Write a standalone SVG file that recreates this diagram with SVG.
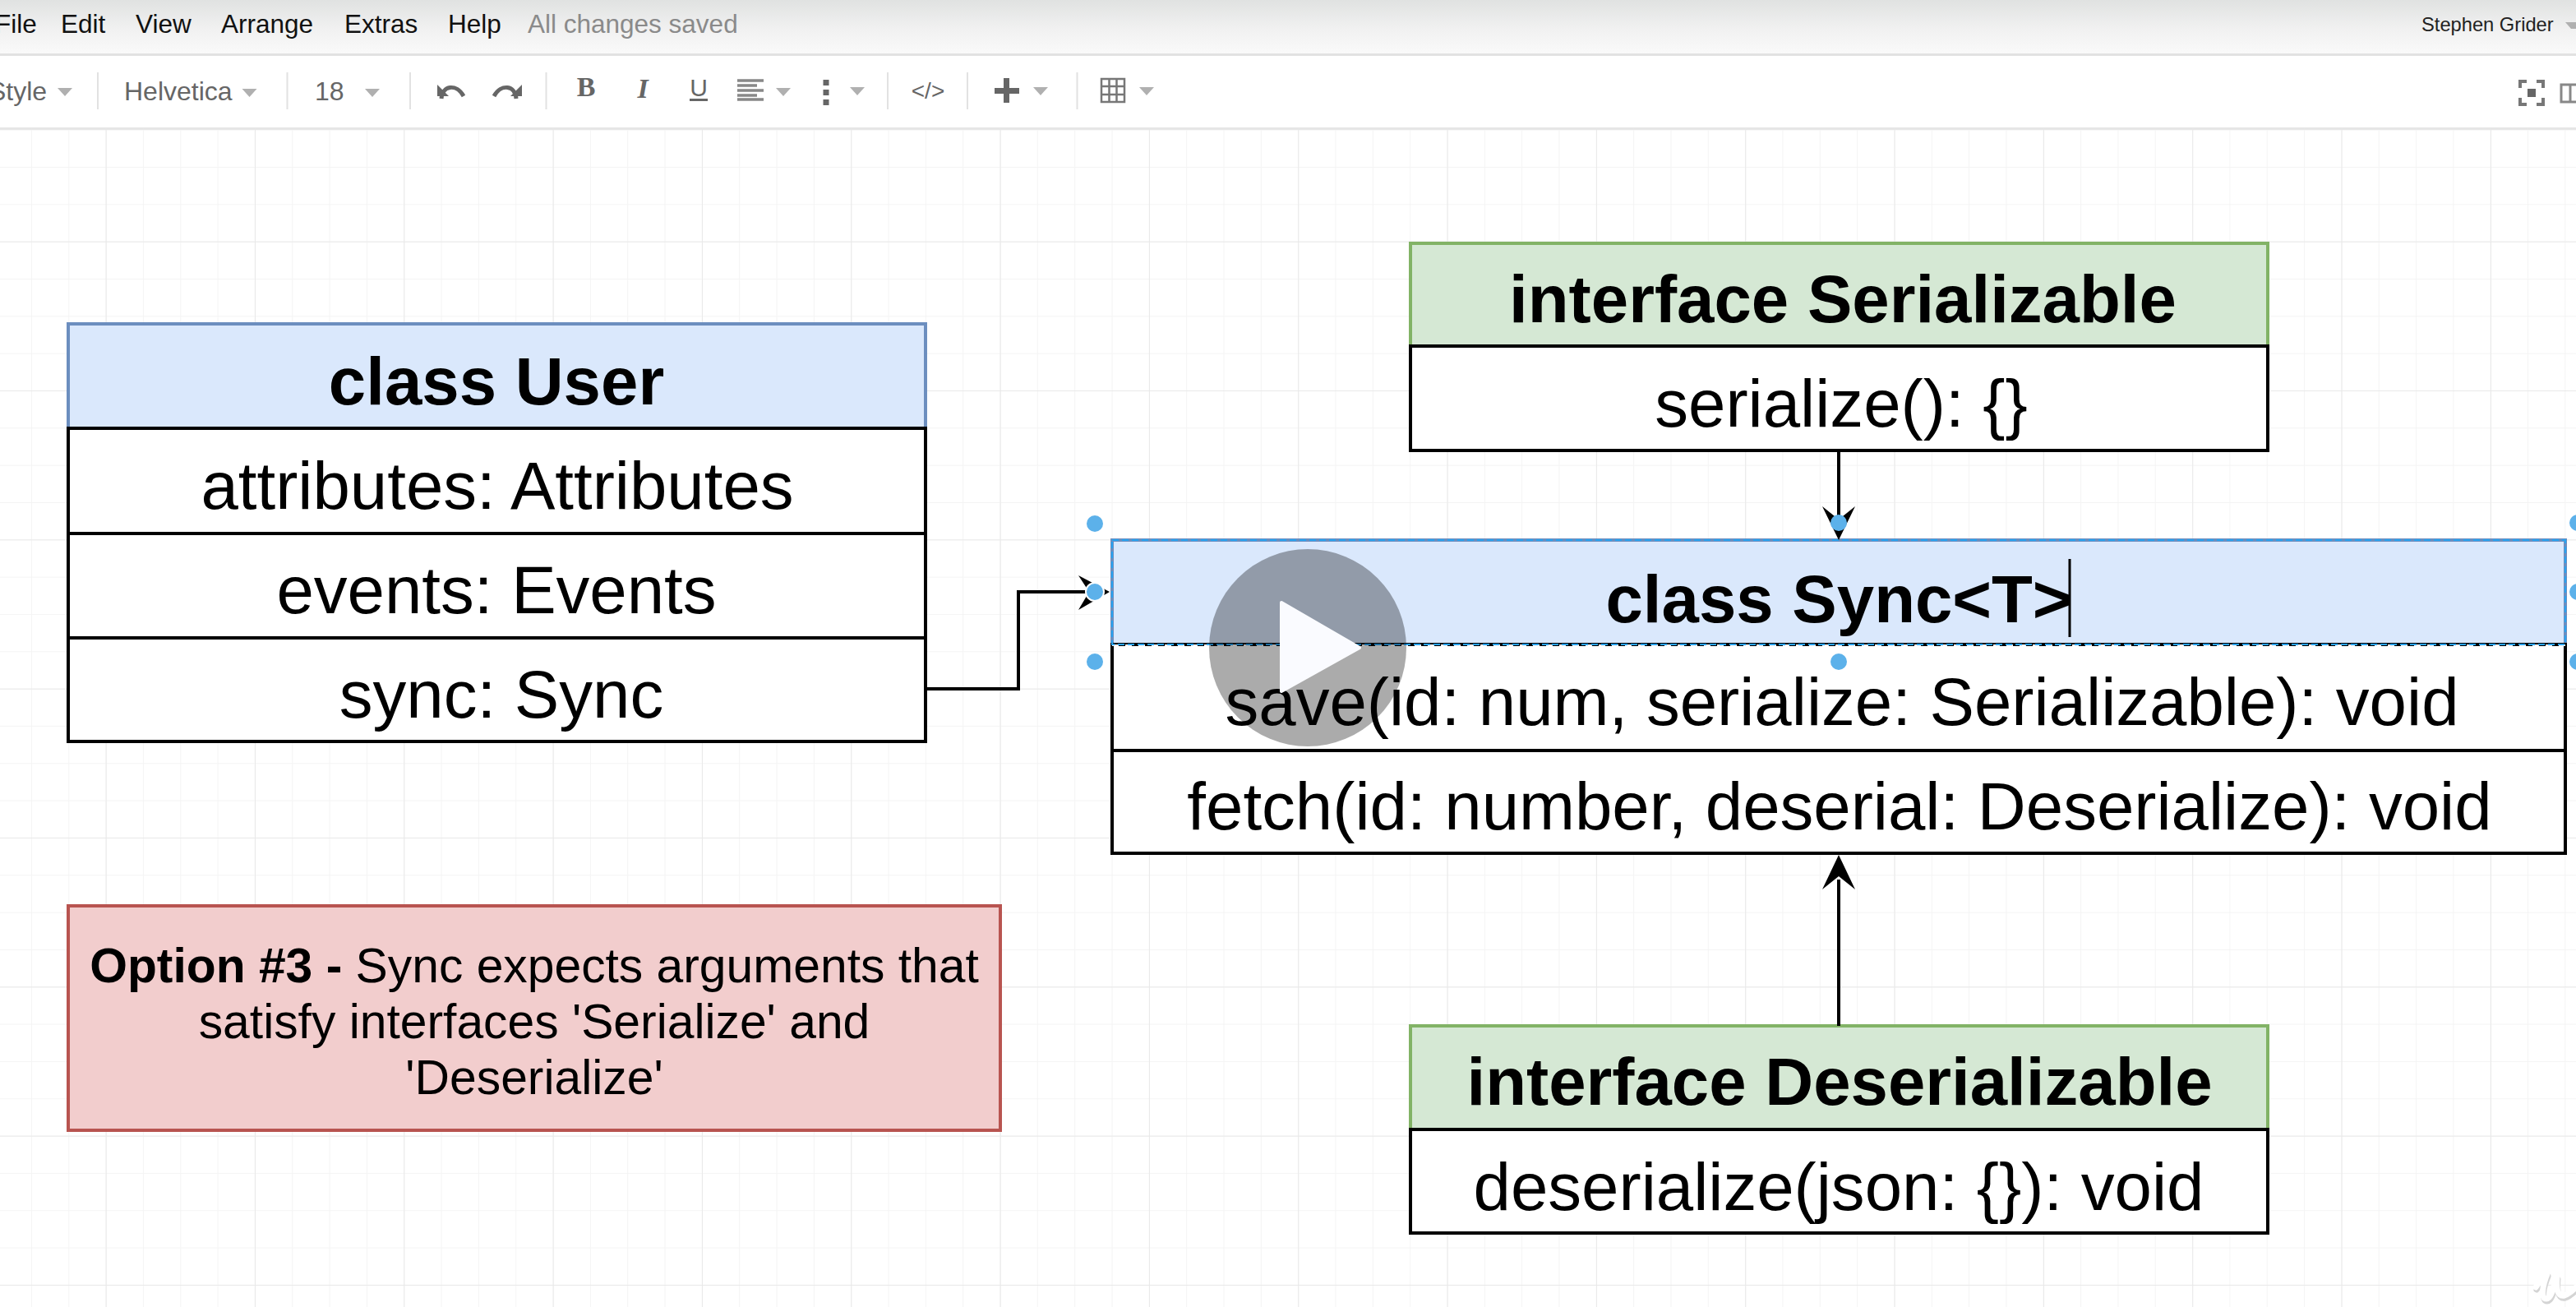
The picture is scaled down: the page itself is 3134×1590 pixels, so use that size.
<svg xmlns="http://www.w3.org/2000/svg" width="3134" height="1590" viewBox="0 0 3134 1590">
<defs>
<linearGradient id="bar" x1="0" y1="0" x2="0" y2="1"><stop offset="0" stop-color="#e0e2e1"/><stop offset="0.5" stop-color="#f0f0f0"/><stop offset="1" stop-color="#fafafa"/></linearGradient>
<pattern id="minor" x="-6.400" y="-22.670" width="45.33" height="45.33" patternUnits="userSpaceOnUse"><path d="M45.33 0V45.33M0 45.33H45.33" fill="none" stroke="#f4f4f4" stroke-width="2"/></pattern>
<pattern id="major" x="-51.700" y="-68" width="181.33" height="181.33" patternUnits="userSpaceOnUse"><path d="M181.33 0V181.33M0 181.33H181.33" fill="none" stroke="#e9e9e9" stroke-width="2"/></pattern>
</defs>
<style>
text{font-family:"Liberation Sans",Arial,sans-serif}
.t{font-size:81.600px;text-anchor:middle;fill:#000}
.b{font-weight:700}
.box{stroke:#000;stroke-width:4;fill:#fff}
.blue{fill:#dae8fc;stroke:#6c8ebf;stroke-width:4}
.green{fill:#d5e8d4;stroke:#82b366;stroke-width:4}
.menu{font-size:31.500px;fill:#111}
.tool{font-size:32px;fill:#666}
.sep{stroke:#e2e2e2;stroke-width:2}
.dd{fill:#b0b0b0}
.ico{fill:#666}
.dot{fill:#5cb1ea}
.conn{fill:none;stroke:#000;stroke-width:4}
.opt{font-size:58.800px;text-anchor:middle;fill:#000}
</style>
<rect width="3134" height="1590" fill="#fff"/>
<rect y="158" width="3134" height="1432" fill="url(#minor)"/>
<rect y="158" width="3134" height="1432" fill="url(#major)"/>
<g id="menubar">
<rect width="3134" height="66" fill="url(#bar)"/>
<rect y="65" width="3134" height="3" fill="#e2e2e2"/>
<text class="menu" x="-6" y="40">File</text>
<text class="menu" x="74" y="40">Edit</text>
<text class="menu" x="165" y="40">View</text>
<text class="menu" x="269" y="40">Arrange</text>
<text class="menu" x="419" y="40">Extras</text>
<text class="menu" x="545" y="40">Help</text>
<text x="642" y="40" style="font-size:31.500px;fill:#8a8a8a">All changes saved</text>
<text x="2946" y="38" style="font-size:23.700px;fill:#222">Stephen Grider</text>
<path class="dd" d="M3121 27H3134V35H3128Z"/>
</g>
<g id="toolbar">
<rect y="68" width="3134" height="88" fill="#fff"/>
<rect y="155" width="3134" height="3" fill="#e6e6e6"/>
<text class="tool" x="-14" y="122">Style</text>
<text class="tool" x="151" y="122">Helvetica</text>
<text class="tool" x="383" y="122">18</text>
<path class="sep" d="M119 88V133M349.500 88V133M499 88V133M664.500 88V133M1080 88V133M1177 88V133M1310.500 88V133"/>
<path class="dd" d="M70 107H88L79 117ZM294.500 108H312.500L303.500 118ZM444 108H462L453 118ZM944 107H962L953 117ZM1034 106H1052L1043 116ZM1257 106H1275L1266 116ZM1386 106H1404L1395 116Z"/>
<path d="M537 120C538 104 555 101 564 117" fill="none" stroke="#666" stroke-width="5"/><path class="ico" d="M532 103V117H546Z"/>
<path d="M601 117C610 101 627 104 628 120" fill="none" stroke="#666" stroke-width="5"/><path class="ico" d="M635 103V117H621Z"/>
<text x="713" y="117" style="font:700 34px 'Liberation Serif',serif;fill:#666;text-anchor:middle">B</text>
<text x="782" y="119" style="font:italic 700 34px 'Liberation Serif',serif;fill:#666;text-anchor:middle">I</text>
<text x="850" y="117" style="font-size:30px;fill:#666;text-anchor:middle">U</text>
<rect class="ico" x="839" y="120" width="22" height="3"/>
<path d="M897 98H929M897 104H921M897 110H929M897 116H921M897 121H929" stroke="#888" stroke-width="3.500"/>
<path d="M1005 97V128" stroke="#666" stroke-width="7" stroke-dasharray="7 5"/>
<text x="1129" y="120" style="font-size:28px;fill:#666;text-anchor:middle">&lt;/&gt;</text>
<path class="ico" d="M1221 95H1228V107H1240V114H1228V125H1221V114H1210V107H1221Z"/>
<path d="M1340 96H1368V124H1340ZM1349.500 96V124M1358.500 96V124M1340 105H1368M1340 115H1368" fill="none" stroke="#777" stroke-width="2.500"/>
<path d="M3066 107V99H3074M3086 99H3094V107M3094 119V127H3086M3074 127H3066V119" fill="none" stroke="#777" stroke-width="4"/><rect class="ico" x="3075" y="108" width="10" height="10"/>
<path d="M3116 103H3140V124H3116ZM3127 103V124" fill="none" stroke="#888" stroke-width="3"/>
</g>
<g id="class-user">
<rect class="blue" x="83" y="394" width="1043" height="127"/>
<rect class="box" x="83" y="521" width="1043" height="128"/>
<rect class="box" x="83" y="649" width="1043" height="127"/>
<rect class="box" x="83" y="776" width="1043" height="126"/>
<text class="t b" x="604" y="492">class User</text>
<text class="t" x="605" y="619">attributes: Attributes</text>
<text class="t" x="604" y="746">events: Events</text>
<text class="t" x="610" y="873">sync: Sync</text>
</g>
<g id="interface-serializable">
<rect class="green" x="1716" y="296" width="1043" height="125"/>
<rect class="box" x="1716" y="421" width="1043" height="127"/>
<text class="t b" x="2242" y="392">interface Serializable</text>
<text class="t" x="2240" y="519">serialize(): {}</text>
</g>
<g id="class-sync">
<rect class="blue" x="1353" y="657" width="1768" height="127"/>
<rect class="box" x="1353" y="784" width="1768" height="129"/>
<rect class="box" x="1353" y="913" width="1768" height="125"/>
<path d="M1353 785H3121" stroke="#fff" stroke-width="2" stroke-dasharray="8 8"/>
<text class="t b" x="2237" y="757">class Sync&lt;T&gt;</text>
<path d="M2518 680V775" stroke="#000" stroke-width="3"/>
<text class="t" x="2241" y="882">save(id: num, serialize: Serializable): void</text>
<text class="t" x="2238" y="1009">fetch(id: number, deserial: Deserialize): void</text>
<rect x="1353" y="657" width="1768" height="127" fill="none" stroke="#29a3f0" stroke-width="2" stroke-dasharray="8 4"/>
</g>
<g id="interface-deserializable">
<rect class="green" x="1716" y="1248" width="1043" height="126"/>
<rect class="box" x="1716" y="1374" width="1043" height="126"/>
<text class="t b" x="2238" y="1344">interface Deserializable</text>
<text class="t" x="2237" y="1472">deserialize(json: {}): void</text>
</g>
<g id="note">
<rect x="83" y="1102" width="1134" height="273" fill="#f2cdcd" stroke="#b85450" stroke-width="4"/>
<text class="opt" x="650" y="1195"><tspan font-weight="700">Option #3 - </tspan>Sync expects arguments that</text>
<text class="opt" x="650" y="1263">satisfy interfaces 'Serialize' and</text>
<text class="opt" x="650" y="1331">'Deserialize'</text>
</g>
<g id="connectors">
<path class="conn" d="M1126 838H1239V720H1330"/>
<path d="M1350 720L1312 742L1325 720L1312 700Z"/>
<path class="conn" d="M2237 549V640" stroke-width="3"/>
<path d="M2237 657L2217 616L2237 632L2257 616Z"/>
<path class="conn" d="M2237 1248V1070"/>
<path d="M2237 1040L2257 1082L2237 1066L2217 1082Z"/>
</g>
<g id="selection-handles">
<circle class="dot" cx="1332" cy="637" r="10"/><circle class="dot" cx="1332" cy="720" r="11" stroke="#fff" stroke-width="2"/><circle class="dot" cx="1332" cy="805" r="10"/>
<circle class="dot" cx="2237" cy="636" r="10"/><circle class="dot" cx="2237" cy="805" r="10"/>
<circle class="dot" cx="3136" cy="636" r="10"/><circle class="dot" cx="3136" cy="720" r="10"/><circle class="dot" cx="3136" cy="805" r="10"/>
</g>
<g id="play-button">
<circle cx="1591" cy="788" r="120" fill="#000" fill-opacity="0.33"/>
<path d="M1559 733L1654 788L1559 841Z" fill="#fafbff" stroke="#fafbff" stroke-width="4" stroke-linejoin="round"/>
</g>
<g id="watermark" fill="none" stroke-linecap="round" stroke-linejoin="round">
<path d="M3085 1566C3092 1556 3100 1546 3099 1550C3094 1562 3090 1580 3098 1580C3106 1580 3108 1554 3111 1553C3110 1564 3110 1578 3120 1576C3126 1574 3130 1570 3134 1566" stroke="#d4d4d4" stroke-width="7" transform="translate(1 3)"/>
<path d="M3085 1566C3092 1556 3100 1546 3099 1550C3094 1562 3090 1580 3098 1580C3106 1580 3108 1554 3111 1553C3110 1564 3110 1578 3120 1576C3126 1574 3130 1570 3134 1566" stroke="#fff" stroke-width="7"/>
</g>
</svg>
